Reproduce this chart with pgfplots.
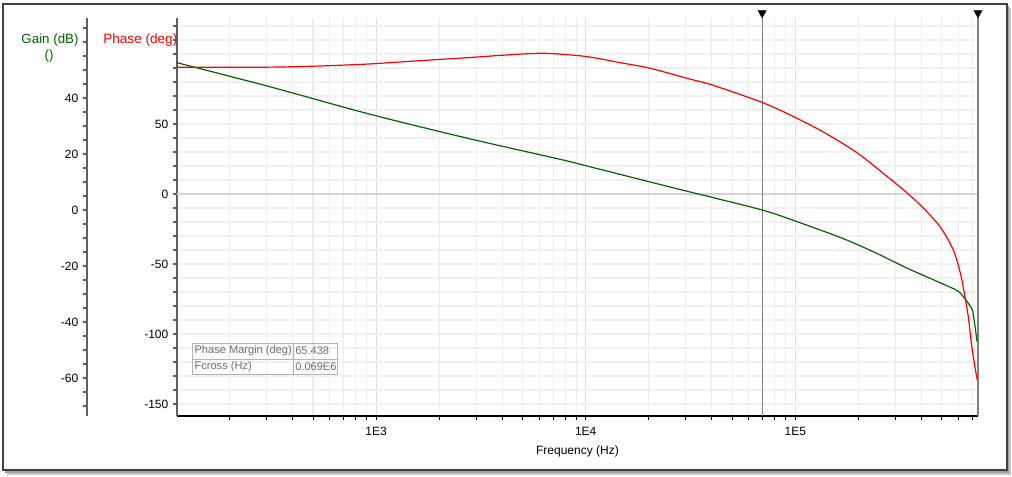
\documentclass[border=0pt]{standalone}
\usepackage{pgfplots}
\pgfplotsset{compat=1.18}
\usepackage{fontspec}
\setmainfont{Liberation Sans}
\definecolor{gaingreen}{RGB}{0,100,0}
\definecolor{gridh}{RGB}{240,240,240}
\definecolor{gridv}{RGB}{236,236,236}
\definecolor{gridvmaj}{RGB}{222,222,222}
\definecolor{zeroc}{RGB}{212,212,212}
\definecolor{axgray}{RGB}{95,95,95}
\definecolor{tabgray}{RGB}{180,180,180}
\definecolor{tabtext}{RGB}{110,110,110}
\begin{document}
\begin{tikzpicture}
\path[use as bounding box] (0,0) rectangle (759pt,357pt);
\fill[gray!45] (5pt,1pt) rectangle (758.5pt,351pt);
\fill[gray!75] (4pt,2.5pt) rectangle (757pt,352.5pt);
\filldraw[fill=white, draw=black!75, line width=1pt] (2.25pt,4.5pt) rectangle (755.25pt,354pt);

\node[text=gaingreen, font=\fontsize{10}{12}\selectfont] at (37.5pt,327pt) {Gain (dB)};
\node[text=gaingreen, font=\fontsize{10}{12}\selectfont] at (36.75pt,315pt) {()};
\node[anchor=west, inner sep=0pt, text=red, font=\fontsize{10.2}{12}\selectfont] at (77.25pt,327pt) {Phase (deg)};
\node[font=\fontsize{9}{11}\selectfont] at (433.1pt,18.75pt) {Frequency (Hz)};

% gain axis stub
\begin{axis}[
  at={(65.25pt,45pt)}, anchor=south west,
  scale only axis, width=20pt, height=298.5pt,
  xmin=0, xmax=1, ymin=-73.57, ymax=68.57,
  axis y line*=left, hide x axis,
  axis line style={-},
  y axis line style={axgray, line width=1.5pt},
  ytick={-60,-40,-20,0,20,40}, yticklabels={-60,-40,-20,0,20,40},
  minor ytick={-70,-65,...,65},
  tick align=outside,
  major tick length=3pt, minor tick length=3pt,
  ytick style={axgray, line width=1.4pt},
  tick label style={font=\fontsize{9}{10}\selectfont},
]
\end{axis}

% phase axis with grid
\begin{axis}[
  at={(132.75pt,45pt)}, anchor=south west,
  scale only axis, width=600.75pt, height=298.5pt,
  xmode=log, xmin=112.2, xmax=745000,
  ymin=-158.57, ymax=125.71,
  axis x line*=bottom, axis y line*=left,
  axis line style={-},
  x axis line style={black, line width=1.1pt},
  y axis line style={axgray, line width=1.5pt},
  xtick={1000,10000,100000}, xticklabels={1E3,1E4,1E5},
  minor xtick={200,300,400,500,600,700,800,900,2000,3000,4000,5000,6000,7000,8000,9000,20000,30000,40000,50000,60000,70000,80000,90000,200000,300000,400000,500000,600000,700000},
  ytick={-150,-100,-50,0,50}, yticklabels={-150,-100,-50,0,50},
  minor ytick={-150,-140,...,120},
  tick align=outside,
  major tick length=3pt, minor tick length=3pt,
  xtick style={black, line width=0.7pt},
  ytick style={axgray, line width=1.4pt},
  xmajorgrids, xminorgrids, ymajorgrids, yminorgrids,
  major x grid style={gridvmaj, line width=0.9pt},
  minor x grid style={gridv, line width=0.8pt},
  major y grid style={gridh, line width=1.4pt},
  minor y grid style={gridh, line width=1.4pt},
  clip=false,
  tick label style={font=\fontsize{9}{10}\selectfont},
  xticklabel style={yshift=-2pt},
]
\addplot[zeroc, line width=1.5pt] coordinates {(112.2,0) (745000,0)};
\addplot[gray, line width=0.9pt] coordinates {(69500,-158.57) (69500,128)};
\addplot[gray, line width=0.9pt] coordinates {(745000,-158.57) (745000,128)};
\addplot[only marks, mark=triangle*, mark size=3.5pt, mark options={rotate=180, fill=black, draw=black}] coordinates {(69500,129.3) (745000,129.3)};
\end{axis}

% gain curve
\begin{axis}[
  at={(132.75pt,45pt)}, anchor=south west,
  scale only axis, width=600.75pt, height=298.5pt,
  xmode=log, xmin=112.2, xmax=745000,
  ymin=-73.57, ymax=68.57,
  hide axis,
]
\addplot[gaingreen, line width=0.9pt, smooth, tension=0.5] coordinates {
(112.2,52.6) (311.9,44.0) (935,34.2) (2812,25.4) (7551,18.1) (10162,15.7)
(20324,10.0) (30479,6.7) (40644,4.4) (69502,0) (94650,-3.3)
(163970,-9.8) (235700,-14.9) (342500,-20.8) (492100,-26.0)
(593200,-28.8) (633600,-31.0) (669500,-33.3) (699700,-35.7) (717600,-40.5)
(736700,-47.0)};
\end{axis}

% phase curve
\begin{axis}[
  at={(132.75pt,45pt)}, anchor=south west,
  scale only axis, width=600.75pt, height=298.5pt,
  xmode=log, xmin=112.2, xmax=745000,
  ymin=-158.57, ymax=125.71,
  hide axis,
]
\addplot[red, line width=0.9pt, smooth, tension=0.5] coordinates {
(112.2,90.5) (304.8,90.6) (505.8,91.3) (711,92.1) (935,92.9) (1303,94.3)
(1811,95.7) (2812,97.5) (3908,99.0) (5433,100.3) (6400,100.5) (7551,99.9)
(10162,98.1) (14620,93.8) (20324,89.8) (30479,82.6) (40644,77.6) (69502,65.4)
(94650,56.4) (136000,44.3) (197700,29.3) (284100,10.7) (346300,0) (408300,-10.0)
(492100,-23.6) (567700,-40) (613100,-56.4) (640700,-70.7) (669500,-87.9)
(692000,-106.4) (715000,-120.7) (739100,-132.9)};
\end{axis}

% info table
\draw[tabgray, line width=0.6pt] (144pt,76.5pt) rectangle (252.75pt,99.75pt);
\draw[tabgray, line width=0.6pt] (144pt,87.75pt) -- (252.75pt,87.75pt);
\draw[tabgray, line width=0.6pt] (219.75pt,76.5pt) -- (219.75pt,99.75pt);
\node[anchor=west, text=tabtext, font=\fontsize{8.3}{9}\selectfont, inner sep=1pt] at (144.75pt,93.75pt) {Phase Margin (deg)};
\node[anchor=west, text=tabtext, font=\fontsize{8.3}{9}\selectfont, inner sep=1pt] at (220.25pt,93.75pt) {65.438};
\node[anchor=west, text=tabtext, font=\fontsize{8.3}{9}\selectfont, inner sep=1pt] at (144.75pt,82.1pt) {Fcross (Hz)};
\node[anchor=west, text=tabtext, font=\fontsize{8.3}{9}\selectfont, inner sep=1pt] at (220.25pt,82.1pt) {0.069E6};
\end{tikzpicture}
\end{document}
